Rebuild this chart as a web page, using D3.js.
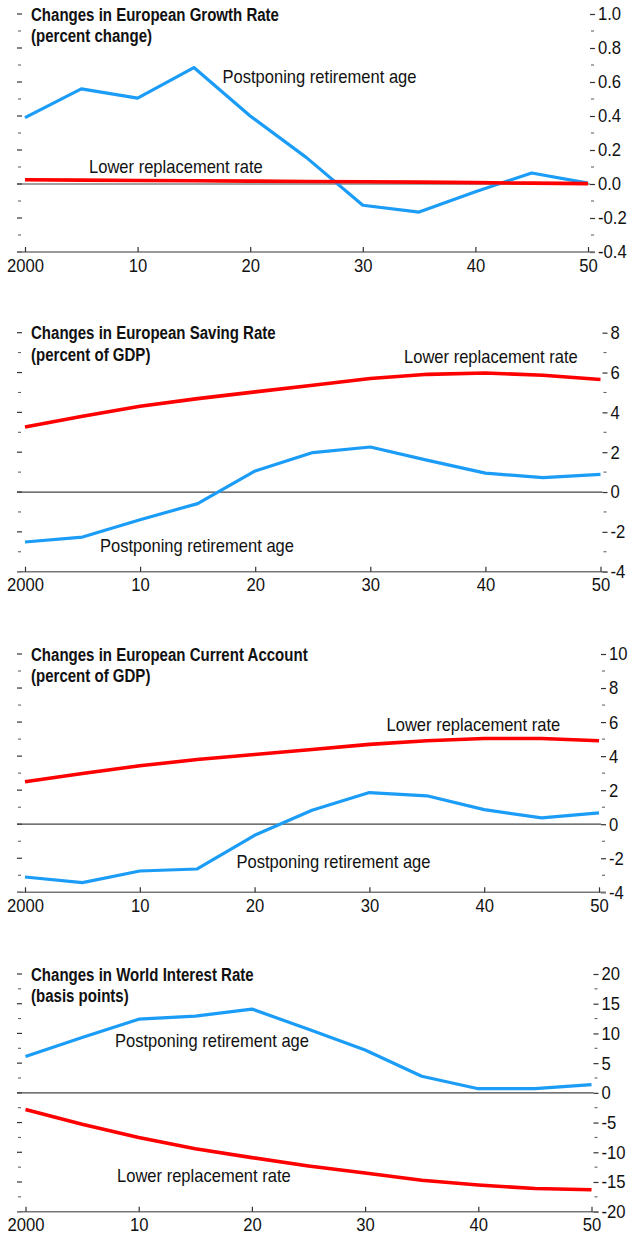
<!DOCTYPE html>
<html><head><meta charset="utf-8">
<script src="https://cdn.jsdelivr.net/npm/d3@7"></script>
<style>
html,body{margin:0;padding:0;background:#fff;}
svg text{font-family:"Liberation Sans",Arial,Helvetica,sans-serif;fill:#111;}
</style></head>
<body>
<svg id="chart" width="630" height="1236"></svg>
<script>
// ---------------- data ----------------
const years = [2000, 2005, 2010, 2015, 2020, 2025, 2030, 2035, 2040, 2045, 2050];
const xTickYears = [2000, 2010, 2020, 2030, 2040, 2050];
const xTickLabels = ["2000", "10", "20", "30", "40", "50"];

const growthPostpone = [0.39, 0.56, 0.505, 0.685, 0.40, 0.155, -0.125, -0.165, -0.045, 0.065, 0.005];
const growthLower    = [0.025, 0.023, 0.021, 0.019, 0.017, 0.015, 0.013, 0.011, 0.008, 0.005, 0.002];
const growthTicks    = [-0.4, -0.2, 0.0, 0.2, 0.4, 0.6, 0.8, 1.0];

const savingPostpone = [-2.51, -2.26, -1.39, -0.58, 1.06, 1.98, 2.26, 1.59, 0.95, 0.72, 0.89];
const savingLower    = [3.27, 3.80, 4.31, 4.69, 5.03, 5.36, 5.70, 5.91, 5.98, 5.86, 5.65];
const savingTicks    = [-4, -2, 0, 2, 4, 6, 8];

const caPostpone = [-3.10, -3.43, -2.75, -2.63, -0.65, 0.82, 1.86, 1.67, 0.86, 0.37, 0.67];
const caLower    = [2.49, 2.98, 3.43, 3.80, 4.10, 4.39, 4.69, 4.90, 5.04, 5.04, 4.90];
const caTicks    = [-4, -2, 0, 2, 4, 6, 8, 10];

const ratePostpone = [6.1, 9.3, 12.4, 12.9, 14.1, 10.7, 7.2, 2.8, 0.7, 0.7, 1.4];
const rateLower    = [-2.8, -5.3, -7.5, -9.4, -10.9, -12.3, -13.5, -14.7, -15.5, -16.1, -16.3];
const rateTicks    = [-20, -15, -10, -5, 0, 5, 10, 15, 20];

const titles = [
  ["Changes in European Growth Rate", "(percent change)"],
  ["Changes in European Saving Rate", "(percent of GDP)"],
  ["Changes in European Current Account", "(percent of GDP)"],
  ["Changes in World Interest Rate", "(basis points)"]
];
const seriesNames = ["Postponing retirement age", "Lower replacement rate"];

// ---------------- layout ----------------
const BLUE = "#1b9cf7", RED = "#ff0000";
const TICK_FS = 18.5, TICK_SX = 0.9;
const LAB_FS = 17.7, LAB_SX = 0.935;
const TTL_FS = 18, TTL_SX = 0.835;

const panels = [
  { title: titles[0], blue: growthPostpone, red: growthLower, ticks: growthTicks, dec: 1,
    x0: 25, x1: 588, yTop: 14, yBot: 252,
    blueLab: [222.5, 83], redLab: [89, 173] },
  { title: titles[1], blue: savingPostpone, red: savingLower, ticks: savingTicks, dec: 0,
    x0: 25, x1: 600.5, yTop: 332.7, yBot: 571.7,
    blueLab: [100, 552], redLab: [404, 363] },
  { title: titles[2], blue: caPostpone, red: caLower, ticks: caTicks, dec: 0,
    x0: 25, x1: 599, yTop: 654, yBot: 892.3,
    blueLab: [236.5, 868], redLab: [386.5, 731] },
  { title: titles[3], blue: ratePostpone, red: rateLower, ticks: rateTicks, dec: 0,
    x0: 25.5, x1: 591.5, yTop: 974, yBot: 1211.7,
    blueLab: [115, 1047], redLab: [117, 1182] }
];

const svg = d3.select("#chart");
const fmt = (v, dec) => {
  const s = (Math.round(v * 1000) / 1000).toFixed(dec);
  return s === "-0.0" || s === "-0" ? s.slice(1) : s;
};

panels.forEach(p => {
  const g = svg.append("g");
  const x = d3.scaleLinear().domain([2000, 2050]).range([p.x0, p.x1]);
  const lo = p.ticks[0], hi = p.ticks[p.ticks.length - 1];
  const y = d3.scaleLinear().domain([lo, hi]).range([p.yBot, p.yTop]);
  const step = p.ticks[1] - p.ticks[0];
  const minor = p.ticks.slice(0, -1).map(t => t + step / 2);

  // left ticks (major + minor, no labels)
  g.append("g").selectAll("line").data(p.ticks).join("line")
    .attr("x1", 17).attr("x2", 22).attr("y1", d => y(d)).attr("y2", d => y(d))
    .attr("stroke", "#333").attr("stroke-width", 1.2);
  g.append("g").selectAll("line").data(minor).join("line")
    .attr("x1", 18).attr("x2", 21).attr("y1", d => y(d)).attr("y2", d => y(d))
    .attr("stroke", "#555").attr("stroke-width", 1);

  // right axis
  const ra = g.append("g").attr("transform", `translate(${p.x1 + 2},0)`)
    .call(d3.axisRight(y).tickValues(p.ticks).tickSize(5).tickPadding(3)
      .tickFormat(d => fmt(d, p.dec)));
  ra.select(".domain").remove();
  ra.selectAll(".tick line").attr("stroke", "#333").attr("stroke-width", 1.2);
  ra.selectAll(".tick text").attr("font-size", TICK_FS).attr("fill", "#111")
    .attr("font-family", null)
    .attr("x", 0).attr("transform", `translate(8,0) scale(${TICK_SX},1)`);
  g.append("g").selectAll("line").data(minor).join("line")
    .attr("x1", p.x1 + 3).attr("x2", p.x1 + 6).attr("y1", d => y(d)).attr("y2", d => y(d))
    .attr("stroke", "#555").attr("stroke-width", 1);

  // bottom axis
  g.append("line").attr("x1", 17).attr("x2", p.x1 + 7)
    .attr("y1", p.yBot).attr("y2", p.yBot).attr("stroke", "#777").attr("stroke-width", 1.5);
  const ba = g.append("g").attr("transform", `translate(0,${p.yBot})`)
    .call(d3.axisBottom(x).tickValues(xTickYears).tickSize(-5).tickPadding(0)
      .tickFormat((d, i) => xTickLabels[i]));
  ba.select(".domain").remove();
  ba.selectAll(".tick line").attr("stroke", "#333").attr("stroke-width", 1.2);
  ba.selectAll(".tick text").attr("font-size", TICK_FS).attr("font-family", null)
    .attr("dy", null).attr("y", 0).attr("fill", "#111")
    .attr("transform", `translate(0,19.7) scale(${TICK_SX},1)`);
  ra.attr("font-family", null);
  ba.attr("font-family", null);

  // zero line
  g.append("line").attr("x1", 17).attr("x2", p.x1 + 2)
    .attr("y1", y(0)).attr("y2", y(0)).attr("stroke", "#444").attr("stroke-width", 1.2);

  // series
  const line = d3.line().x((d, i) => x(years[i])).y(d => y(d));
  g.append("path").datum(p.blue).attr("d", line).attr("fill", "none")
    .attr("stroke", BLUE).attr("stroke-width", 3.2).attr("stroke-linejoin", "round");
  g.append("path").datum(p.red).attr("d", line).attr("fill", "none")
    .attr("stroke", RED).attr("stroke-width", 3.6).attr("stroke-linejoin", "round");

  // series labels
  g.append("text").attr("transform", `translate(${p.blueLab[0]},${p.blueLab[1]}) scale(${LAB_SX},1)`)
    .attr("font-size", LAB_FS).attr("fill", "#222").text(seriesNames[0]);
  g.append("text").attr("transform", `translate(${p.redLab[0]},${p.redLab[1]}) scale(${LAB_SX},1)`)
    .attr("font-size", LAB_FS).attr("fill", "#222").text(seriesNames[1]);

  // title
  const tt = g.append("text").attr("transform", `translate(31,${p.yTop + 6.5}) scale(${TTL_SX},1)`)
    .attr("font-size", TTL_FS).attr("font-weight", "bold");
  tt.append("tspan").attr("x", 0).text(p.title[0]);
  tt.append("tspan").attr("x", 0).attr("dy", 22).text(p.title[1]);
});
</script>
</body></html>
